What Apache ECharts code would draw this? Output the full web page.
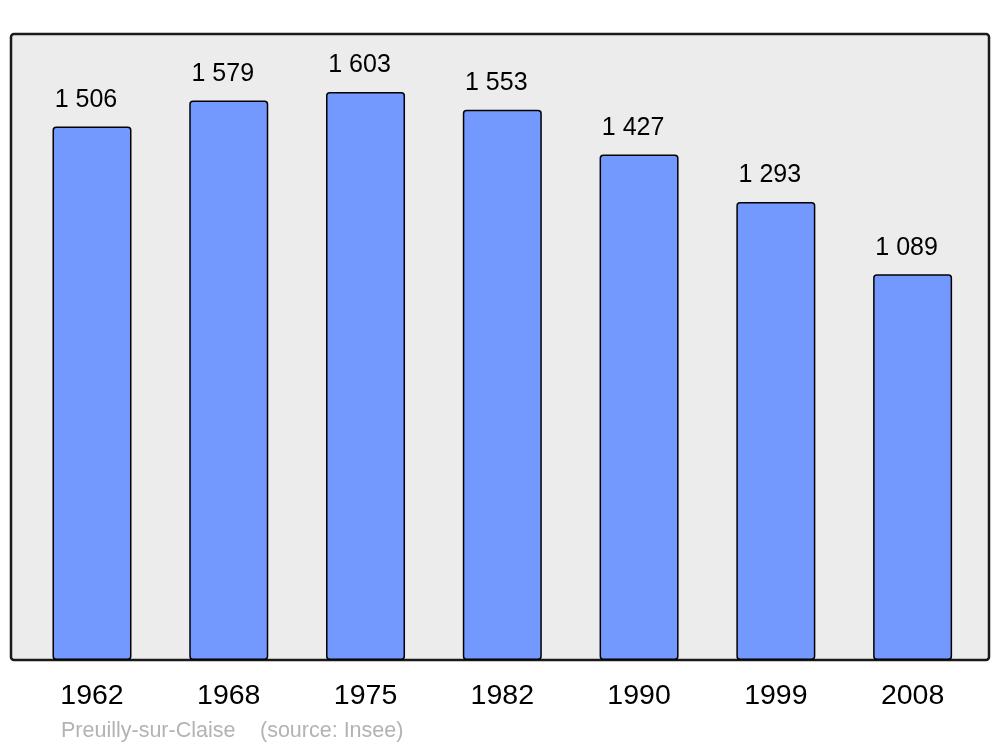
<!DOCTYPE html>
<html>
<head>
<meta charset="utf-8">
<script src="https://cdn.jsdelivr.net/npm/echarts@6/dist/echarts.min.js"></script>
<style>
html,body{margin:0;padding:0;background:#fff;}
#chart{width:1000px;height:747px;}
</style>
</head>
<body>
<div id="chart"></div>
<script>
const years = ['1962','1968','1975','1982','1990','1999','2008'];
const population = [1506, 1579, 1603, 1553, 1427, 1293, 1089];
const placeName = 'Preuilly-sur-Claise';
const sourceText = '(source: Insee)';

function fmt(v){ return String(v).replace(/\B(?=(\d{3})+(?!\d))/g, ' '); }

const chart = echarts.init(document.getElementById('chart'), null, {renderer:'canvas'});
chart.setOption({
  animation: false,
  backgroundColor: '#ffffff',
  textStyle: { fontFamily: '"Liberation Sans", Arial, sans-serif' },
  graphic: [
    { type: 'rect', z: 0, shape: { x: 11, y: 34, width: 978, height: 626, r: 3 },
      style: { fill: '#ececec', stroke: '#1a1a1a', lineWidth: 2.5 } },
    { type: 'text', z: 5, left: 61, top: 720,
      style: { text: placeName, fill: '#b3b3b3', font: '21.5px "Liberation Sans", Arial, sans-serif' } },
    { type: 'text', z: 5, left: 260, top: 720,
      style: { text: sourceText, fill: '#b3b3b3', font: '21.5px "Liberation Sans", Arial, sans-serif' } }
  ],
  grid: { left: 23.6, right: 19, top: 34, bottom: 87, containLabel: false },
  xAxis: {
    type: 'category',
    data: years,
    axisLine: { show: false },
    axisTick: { show: false },
    axisLabel: { color: '#000', fontSize: 28.5, margin: 22, fontFamily: '"Liberation Sans", Arial, sans-serif' }
  },
  yAxis: {
    type: 'value',
    min: 0,
    max: 1767,
    show: false,
    splitLine: { show: false }
  },
  series: [{
    type: 'bar',
    data: population,
    barWidth: 79,
    z: 2,
    itemStyle: { color: '#7399ff', borderColor: '#000', borderWidth: 1.5, borderRadius: 3 },
    label: {
      show: true, position: 'top', distance: 14, color: '#000', fontSize: 25,
      offset: [-6, 0],
      fontFamily: '"Liberation Sans", Arial, sans-serif',
      formatter: p => fmt(p.value)
    }
  }]
});
</script>
</body>
</html>
